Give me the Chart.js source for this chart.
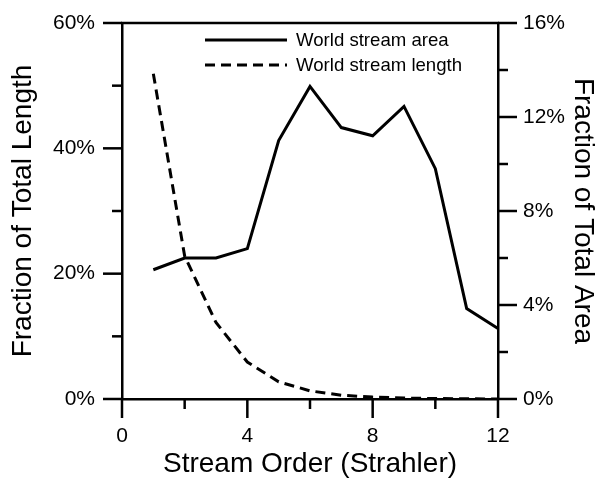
<!DOCTYPE html>
<html><head><meta charset="utf-8">
<script src="https://cdn.jsdelivr.net/npm/chart.js@4/dist/chart.umd.min.js"></script>
<style>html,body{margin:0;padding:0;background:#fff}</style>
</head><body>
<canvas id="c" width="600" height="478"></canvas>
<script>
// ---- data ----
const streamOrder = [1, 2, 3, 4, 5, 6, 7, 8, 9, 10, 11, 12];
const worldStreamArea = [5.5, 6.0, 6.0, 6.4, 11.0, 13.3, 11.55, 11.2, 12.45, 9.8, 3.85, 3.0];      // % of total area (right axis)
const worldStreamLength = [51.9, 22.8, 12.2, 5.9, 2.75, 1.3, 0.6, 0.3, 0.15, 0.07, 0.03, 0.01];   // % of total length (left axis)
const seriesLabels = ['World stream area', 'World stream length'];
const xRange = [0, 12], xMajor = 4, xMinor = 2;
const lenRange = [0, 60], lenMajor = 20, lenMinor = 10;
const areaRange = [0, 16], areaMajor = 4, areaMinor = 2;
const axisTitles = { x: 'Stream Order (Strahler)', y: 'Fraction of Total Length', y1: 'Fraction of Total Area' };

const FONT = "'Liberation Sans', Arial, sans-serif";
const TICK_MAJOR = 19, TICK_MINOR = 10, AXIS_W = 2.5;

const tickPlugin = {
  id: 'customTicks',
  afterDraw(chart) {
    const ctx = chart.ctx, a = chart.chartArea;
    const sx = chart.scales.x, sy = chart.scales.y, sy1 = chart.scales.y1;
    ctx.save();
    ctx.strokeStyle = '#000';
    ctx.lineWidth = AXIS_W;
    ctx.lineCap = 'butt';
    const line = (x1, y1, x2, y2) => { ctx.beginPath(); ctx.moveTo(x1, y1); ctx.lineTo(x2, y2); ctx.stroke(); };
    // top frame
    line(a.left - 1, a.top, a.right + 1, a.top);
    // x ticks
    for (let v = xRange[0]; v <= xRange[1] + 1e-9; v += xMinor) {
      const px = sx.getPixelForValue(v);
      const len = (Math.abs(v % xMajor) < 1e-9) ? TICK_MAJOR : TICK_MINOR;
      line(px, a.bottom, px, a.bottom + len);
    }
    // left ticks
    for (let v = lenRange[0]; v <= lenRange[1] + 1e-9; v += lenMinor) {
      const py = sy.getPixelForValue(v);
      const len = (Math.abs(v % lenMajor) < 1e-9) ? TICK_MAJOR : TICK_MINOR;
      line(a.left, py, a.left - len, py);
    }
    // right ticks
    for (let v = areaRange[0]; v <= areaRange[1] + 1e-9; v += areaMinor) {
      const py = sy1.getPixelForValue(v);
      const len = (Math.abs(v % areaMajor) < 1e-9) ? TICK_MAJOR : TICK_MINOR;
      line(a.right, py, a.right + len, py);
    }
    ctx.restore();
  }
};

const legendPlugin = {
  id: 'insideLegend',
  afterDraw(chart) {
    const ctx = chart.ctx;
    const x0 = 205, x1 = 287, tx = 296, y0 = 40, dy = 25;
    ctx.save();
    chart.data.datasets.forEach((ds, i) => {
      const y = y0 + i * dy;
      ctx.strokeStyle = ds.borderColor;
      ctx.lineWidth = ds.borderWidth;
      ctx.setLineDash(ds.borderDash || []);
      ctx.beginPath(); ctx.moveTo(x0, y); ctx.lineTo(x1, y); ctx.stroke();
      ctx.setLineDash([]);
      ctx.fillStyle = '#000';
      ctx.font = '18.6px ' + FONT;
      ctx.textBaseline = 'middle';
      ctx.textAlign = 'left';
      ctx.fillText(ds.label, tx, y + 1);
    });
    ctx.restore();
  }
};

const pct = v => v + '%';

new Chart(document.getElementById('c'), {
  type: 'line',
  data: {
    datasets: [
      {
        label: seriesLabels[0],
        data: streamOrder.map((o, i) => ({ x: o, y: worldStreamArea[i] })),
        yAxisID: 'y1',
        borderColor: '#000', borderWidth: 3, pointRadius: 0, tension: 0, fill: false,
        borderJoinStyle: 'miter'
      },
      {
        label: seriesLabels[1],
        data: streamOrder.map((o, i) => ({ x: o, y: worldStreamLength[i] })),
        yAxisID: 'y',
        borderColor: '#000', borderWidth: 3, borderDash: [10, 6], pointRadius: 0, tension: 0, fill: false
      }
    ]
  },
  options: {
    responsive: false,
    animation: false,
    devicePixelRatio: 1,
    layout: { padding: { top: 23, left: 0, right: 0, bottom: 0 } },
    plugins: { legend: { display: false }, tooltip: { enabled: false } },
    scales: {
      x: {
        type: 'linear', position: 'bottom', min: xRange[0], max: xRange[1],
        afterFit(s) { s.height = 79; },
        grid: { display: false, drawTicks: true, tickLength: TICK_MAJOR },
        border: { display: true, color: '#000', width: AXIS_W },
        ticks: { stepSize: xMajor, color: '#000', padding: 6, font: { family: FONT, size: 21 } },
        title: { display: true, text: axisTitles.x, color: '#000', padding: 0, font: { family: FONT, size: 28, lineHeight: 1 } }
      },
      y: {
        type: 'linear', position: 'left', min: lenRange[0], max: lenRange[1],
        afterFit(s) { s.width = 122; },
        grid: { display: false, drawTicks: true, tickLength: TICK_MAJOR },
        border: { display: true, color: '#000', width: AXIS_W },
        ticks: { stepSize: lenMajor, color: '#000', padding: 8, callback: pct, font: { family: FONT, size: 21 } },
        title: { display: true, text: axisTitles.y, color: '#000', padding: { top: 9, bottom: 0 }, font: { family: FONT, size: 28, lineHeight: 1 } }
      },
      y1: {
        type: 'linear', position: 'right', min: areaRange[0], max: areaRange[1],
        afterFit(s) { s.width = 102; },
        grid: { display: false, drawTicks: true, tickLength: TICK_MAJOR },
        border: { display: true, color: '#000', width: AXIS_W },
        ticks: { stepSize: areaMajor, color: '#000', padding: 6, callback: pct, font: { family: FONT, size: 21 } },
        title: { display: true, text: axisTitles.y1, color: '#000', padding: { top: 3, bottom: 0 }, font: { family: FONT, size: 28, lineHeight: 1 } }
      }
    }
  },
  plugins: [tickPlugin, legendPlugin]
});
</script>
</body></html>
